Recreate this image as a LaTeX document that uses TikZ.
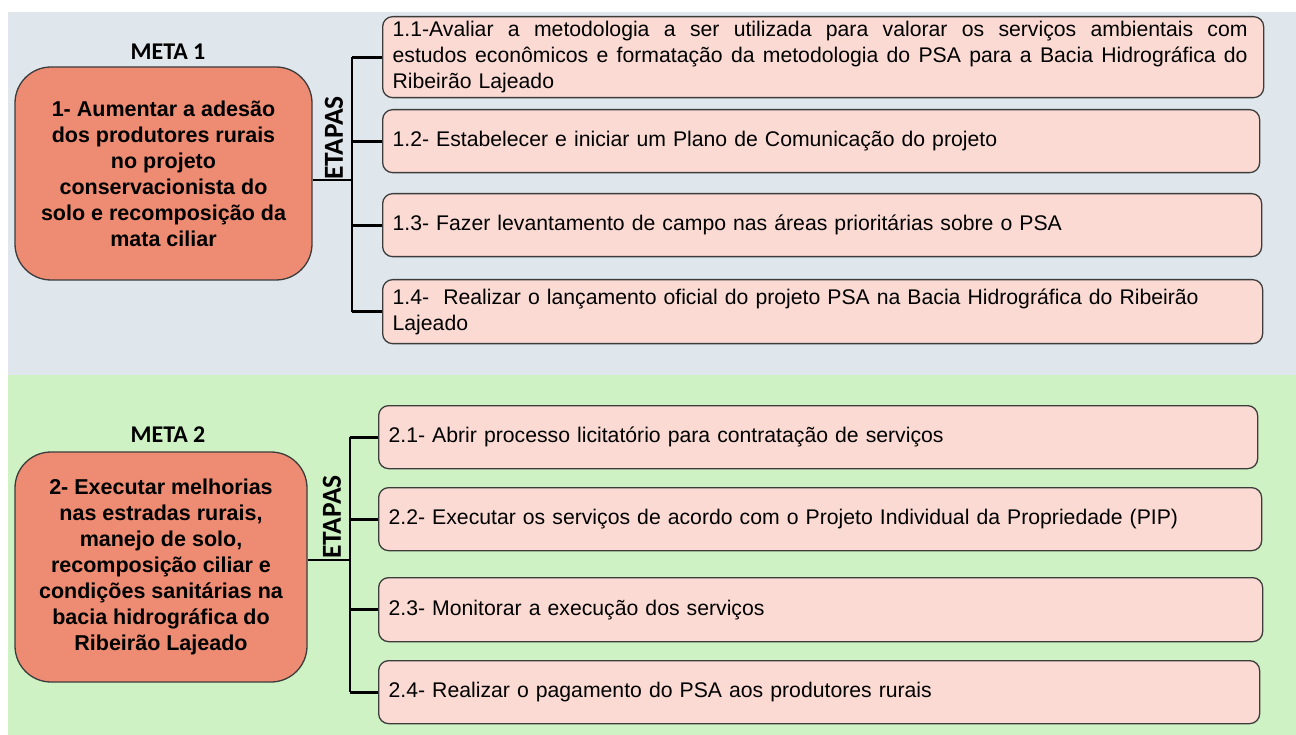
\documentclass[tikz,border=0pt]{standalone}
\usepackage{fontspec}
\setmainfont{Liberation Sans}
\newfontfamily\calib{Carlito}
\definecolor{panelA}{HTML}{DFE6EC}
\definecolor{panelB}{HTML}{CEF2C3}
\definecolor{stepfill}{HTML}{FADAD2}
\definecolor{metafill}{HTML}{EE8C73}
\definecolor{bordergray}{HTML}{3C3C3C}
\newcommand\stepfont{\fontsize{21.2}{26}\selectfont}
\newcommand\metafont{\bfseries\fontsize{21.5}{26}\selectfont}
\newcommand\justline[1]{\makebox[855pt][s]{\spaceskip=0pt #1}}
\tikzset{
  stepbox/.style={draw=bordergray, fill=stepfill, rounded corners=10pt, line width=1.3pt,
    inner xsep=10pt, inner ysep=0pt, align=left, anchor=north west, font=\stepfont},
  metabox/.style={draw=bordergray, fill=metafill, rounded corners=36pt, line width=1.3pt,
    align=center, font=\metafont, inner sep=0pt},
  metalabel/.style={font=\calib\bfseries\fontsize{24}{28}\selectfont},
  etapas/.style={rotate=90, font=\calib\bfseries\fontsize{27.5}{30}\selectfont, inner sep=0pt},
  conn/.style={line width=2.8pt, black}
}
\begin{document}
\begin{tikzpicture}[x=1pt,y=-1pt]
\useasboundingbox (0,0) rectangle (1296,735);
\fill[white] (0,0) rectangle (1296,735);
\fill[panelA] (8,12) rectangle (1296,375);
\fill[panelB] (8,375) rectangle (1296,735);

% ---------- META 1 ----------
\node[metalabel] (t1) at (168,52) {META 1};
\node[metabox, minimum width=297pt, minimum height=213pt] (m1) at (163.5,173.5)
  {1- Aumentar a adesão\\dos produtores rurais\\no projeto\\conservacionista do\\solo e recomposição da\\mata ciliar};
\node[etapas] (e1) at (334,138) {ETAPAS};

\node[stepbox, text width=861pt, minimum height=81pt] (s11) at (382,16)
  {\justline{1.1-Avaliar a metodologia a ser utilizada para valorar os serviços ambientais com}\\
   \justline{estudos econômicos e formatação da metodologia do PSA para a Bacia Hidrográfica do}\\
   Ribeirão Lajeado};
\node[stepbox, text width=857pt, minimum height=63pt] (s12) at (382,109)
  {1.2- Estabelecer e iniciar um Plano de Comunicação do projeto};
\node[stepbox, text width=859pt, minimum height=63pt] (s13) at (382,193)
  {1.3- Fazer levantamento de campo nas áreas prioritárias sobre o PSA};
\node[stepbox, text width=860pt, minimum height=64pt] (s14) at (382,279)
  {1.4-\ \ Realizar o lançamento oficial do projeto PSA na Bacia Hidrográfica do Ribeirão\\Lajeado};

\coordinate (j1) at (352,180);
\draw[conn] (m1.east |- j1) -- (j1);
\draw[conn] (j1 |- s11.west) -- (j1 |- s14.west);
\foreach \s in {s11,s12,s13,s14} \draw[conn] (j1 |- \s.west) -- (\s.west);

% ---------- META 2 ----------
\node[metalabel] (t2) at (168,435) {META 2};
\node[metabox, minimum width=292pt, minimum height=230pt] (m2) at (161,567)
  {2- Executar melhorias\\nas estradas rurais,\\manejo de solo,\\recomposição ciliar e\\condições sanitárias na\\bacia hidrográfica do\\Ribeirão Lajeado};
\node[etapas] (e2) at (332,517) {ETAPAS};

\node[stepbox, text width=859pt, minimum height=63pt] (s21) at (378,405)
  {2.1- Abrir processo licitatório para contratação de serviços};
\node[stepbox, text width=863pt, minimum height=63pt] (s22) at (378,487)
  {2.2- Executar os serviços de acordo com o Projeto Individual da Propriedade (PIP)};
\node[stepbox, text width=864pt, minimum height=64pt] (s23) at (378,577)
  {2.3- Monitorar a execução dos serviços};
\node[stepbox, text width=861pt, minimum height=63pt] (s24) at (378,660)
  {2.4- Realizar o pagamento do PSA aos produtores rurais};

\coordinate (j2) at (350,560);
\draw[conn] (m2.east |- j2) -- (j2);
\draw[conn] (j2 |- s21.west) -- (j2 |- s24.west);
\foreach \s in {s21,s22,s23,s24} \draw[conn] (j2 |- \s.west) -- (\s.west);
\end{tikzpicture}
\end{document}
